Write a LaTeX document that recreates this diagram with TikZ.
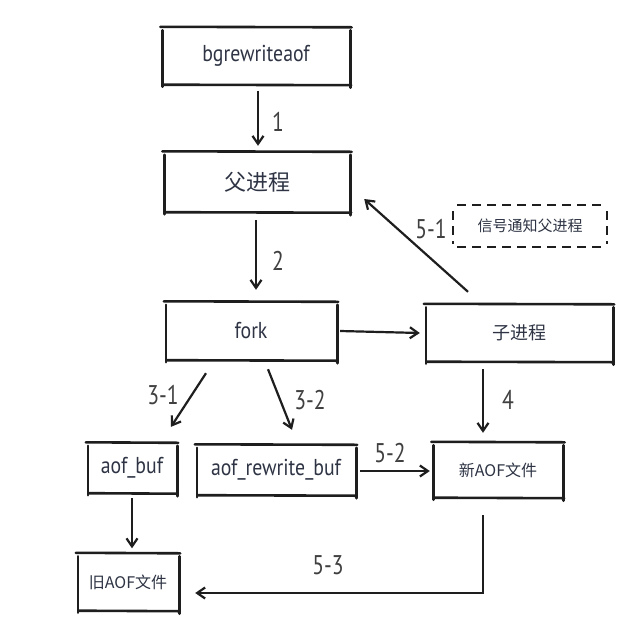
\documentclass[tikz,border=0pt]{standalone}
\usepackage{fontspec}
\setmainfont{PT Sans}
\newfontfamily\narrowfont[FakeStretch=0.86]{PT Sans}
\newfontfamily\lblfont[FakeStretch=0.8]{PT Sans}
\newfontfamily\cjk{Noto Sans CJK SC}
\usetikzlibrary{arrows.meta,calc}
\definecolor{ink}{HTML}{1E1E1E}
\definecolor{txt}{HTML}{2E3444}
\tikzset{
  nd/.style={draw=none, inner sep=0pt, text=txt},
  lat/.style={font=\narrowfont\fontsize{23}{26}\selectfont},
  han/.style={font=\cjk\fontsize{#1}{#1}\selectfont},
  skline/.style={draw=ink, line width=2.6pt, line cap=round},
  skdash/.style={draw=ink, line width=2.3pt, dash pattern=on 9pt off 6pt},
  arr/.style={draw=ink, line width=2.2pt, -{Straight Barb[length=8pt,width=11pt,line width=2.2pt]}},
  lbl/.style={text=ink!85, inner sep=0pt, font=\lblfont\fontsize{27}{29}\selectfont}
}
\begin{document}
\begin{tikzpicture}[x=1pt,y=-1pt]
\useasboundingbox[fill=white] (0,0) rectangle (642,627);

% boxes
\node[nd,lat,minimum width=187pt,minimum height=57pt] (bg) at (256,56) {bgrewriteaof};
\node[nd,han=22,minimum width=185pt,minimum height=60pt] (fu) at (257,182) {父进程};
\node[nd,lat,minimum width=170pt,minimum height=58pt] (fk) at (251,331) {fork};
\node[nd,han=18,minimum width=186pt,minimum height=57pt] (zi) at (519,333) {子进程};
\node[nd,han=15,minimum width=153pt,minimum height=41pt] (sig) at (530,226) {信号通知父进程};
\node[nd,lat,minimum width=88pt,minimum height=50pt] (ab) at (132,468) {aof\_buf};
\node[nd,lat,minimum width=158pt,minimum height=50pt] (arb) at (276,470) {aof\_rewrite\_buf};
\node[nd,han=16,minimum width=129pt,minimum height=55pt] (nw) at (498,470) {新AOF文件};
\node[nd,han=16,minimum width=100pt,minimum height=57pt] (old) at (128,582) {旧AOF文件};

% sketchy borders
\foreach \n in {bg,fu,fk,zi,ab,arb,nw,old} {
  \draw[skline] ([xshift=-2pt,yshift=0.5pt]\n.north west) -- ([xshift=2pt]\n.north east);
  \draw[skline] ([xshift=1pt]\n.south west) -- ([xshift=1.5pt,yshift=-0.5pt]\n.south east);
  \draw[skline] ([yshift=-3pt]\n.north west) -- ([yshift=-2pt]\n.south west);
  \draw[skline] ([xshift=1pt,yshift=-3pt]\n.north east) -- ([xshift=1pt,yshift=-3pt]\n.south east);
}
\draw[skdash] ([xshift=4pt]sig.north west) -- ([xshift=-2pt]sig.north east);
\draw[skdash] ([xshift=4pt]sig.south west) -- ([xshift=-2pt]sig.south east);
\draw[skdash] ([yshift=-6pt]sig.north west) -- ([yshift=3pt]sig.south west);
\draw[skdash] ([yshift=-6pt]sig.north east) -- ([yshift=3pt]sig.south east);

% connectors
\draw[arr] ([xshift=2pt,yshift=-6pt]bg.south) -- ([xshift=1pt,yshift=6pt]fu.north);
\draw[arr] ([xshift=-1pt,yshift=-8pt]fu.south) -- ([xshift=5pt,yshift=12pt]fk.north);
\draw[arr] ([xshift=4pt]fk.east) -- ([xshift=-6pt]zi.west);
\draw[arr] ([xshift=-51pt,yshift=12.5pt]zi.north) -- ([xshift=14.5pt,yshift=-17pt]fu.east);
\draw[arr] ([xshift=-45pt,yshift=-13pt]fk.south) -- ([xshift=39pt,yshift=16pt]ab.north);
\draw[arr] ([xshift=17pt,yshift=-9pt]fk.south) -- ([xshift=16pt,yshift=15pt]arb.north);
\draw[arr] ([xshift=-36pt,yshift=-7.5pt]zi.south) -- ([xshift=-15pt,yshift=9.5pt]nw.north);
\draw[arr] ([xshift=5pt,yshift=-1pt]arb.east) -- ([xshift=-3.5pt,yshift=-1pt]nw.west);
\draw[arr] ([yshift=-5pt]ab.south) -- ([xshift=4pt,yshift=5pt]old.north);
\draw[arr] ([xshift=-15pt,yshift=-17.5pt]nw.south) |- ([xshift=17pt,yshift=-11pt]old.east);

% labels
\node[lbl] (l1) at (278,122) {1};
\node[lbl] (l2) at (278,261) {2};
\node[lbl] (l51) at (431,229) {5-1};
\node[lbl] (l31) at (163,395) {3-1};
\node[lbl] (l32) at (310,400) {3-2};
\node[lbl] (l4) at (508,400) {4};
\node[lbl] (l52) at (390,453) {5-2};
\node[lbl] (l53) at (328,565) {5-3};
\end{tikzpicture}
\end{document}
